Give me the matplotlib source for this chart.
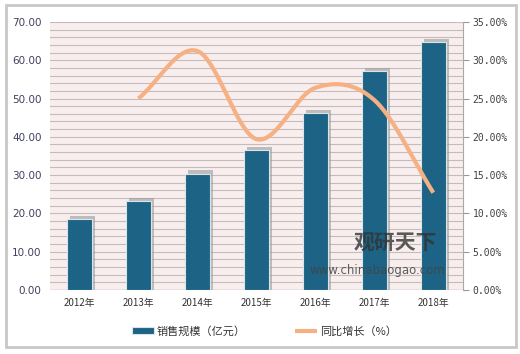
import matplotlib
matplotlib.use("Agg")
import matplotlib.pyplot as plt
import numpy as np
from matplotlib.patches import Rectangle

plt.rcParams['font.family'] = ['Noto Sans CJK SC', 'DejaVu Sans']

years = ["2012年", "2013年", "2014年", "2015年", "2016年", "2017年", "2018年"]
sales = [18.5, 23.1, 30.4, 36.5, 46.1, 57.2, 64.7]
growth_years = ["2013年", "2014年", "2015年", "2016年", "2017年", "2018年"]
growth = [25.0, 31.2, 19.7, 26.4, 24.8, 12.7]
left_ticks = [0, 10, 20, 30, 40, 50, 60, 70]
right_ticks = [0, 5, 10, 15, 20, 25, 30, 35]

bar_color = "#1c6385"
line_color = "#f5b183"

fig = plt.figure(figsize=(5.2, 3.54), dpi=100)
# outer frame
fig.patches.append(Rectangle((0.012, 0.02), 0.98, 0.965, transform=fig.transFigure,
                             facecolor="white", edgecolor="#c8c8c8", linewidth=2.0, zorder=-10))

ax = fig.add_axes([0.096, 0.181, 0.794, 0.757])
ax.set_facecolor("#f8eeee")
x = np.arange(len(years))
ax.set_xlim(-0.5, len(years) - 0.5)
ax.set_ylim(0, 70)
for yv in np.arange(2, 71, 2):
    ax.axhline(yv, color="#c4bcbc", linewidth=0.8, zorder=1)
ax.axhline(0, color="#aaaaaa", linewidth=1.0, zorder=1)

w = 0.42
# shadows
ax.bar(x + 0.05, np.array(sales) + 0.9, width=w, color="#9a9a9a", alpha=0.6, zorder=2)
ax.bar(x, sales, width=w, color=bar_color, edgecolor="#d8e4ea", linewidth=0.8, zorder=3,
       label="销售规模（亿元）")

ax.set_xticks(x)
ax.set_xticklabels(years, fontsize=7, color="#333333")
ax.set_yticks(left_ticks)
ax.set_yticklabels([f"{v:.2f}" for v in left_ticks], fontsize=7.5, color="#404060",
                   family=["DejaVu Sans"])
ax.tick_params(axis='both', length=0, pad=6)
for s in ax.spines.values():
    s.set_visible(False)

ax2 = ax.twinx()
ax2.set_ylim(0, 35)
ax2.set_yticks(right_ticks)
ax2.set_yticklabels([f"{v:.2f}%" for v in right_ticks], fontsize=7, color="#404040",
                    family=["DejaVu Sans Mono"])
ax2.tick_params(axis='y', length=4, color="#999999", pad=3)
for k, s in ax2.spines.items():
    s.set_visible(k == "right")
ax2.spines["right"].set_color("#aaaaaa")

# smooth curve (Catmull-Rom)
gx = np.array([years.index(g) for g in growth_years], dtype=float)
gy = np.array(growth, dtype=float)
P = np.column_stack([gx, gy])
Pext = np.vstack([2 * P[0] - P[1], P, 2 * P[-1] - P[-2]])
pts = []
for i in range(1, len(Pext) - 2):
    p0, p1, p2, p3 = Pext[i - 1], Pext[i], Pext[i + 1], Pext[i + 2]
    t = np.linspace(0, 1, 40)[:, None]
    seg = 0.5 * ((2 * p1) + (-p0 + p2) * t + (2 * p0 - 5 * p1 + 4 * p2 - p3) * t ** 2
                 + (-p0 + 3 * p1 - 3 * p2 + p3) * t ** 3)
    pts.append(seg)
pts = np.vstack(pts)
ax2.plot(pts[:, 0], pts[:, 1], color=line_color, linewidth=3, zorder=5,
         solid_capstyle="butt", label="同比增长（%）")

# watermark
fig.text(0.68, 0.295, "观研天下", fontsize=15, fontweight="bold", color="#333333", alpha=0.8,
         zorder=10)
fig.text(0.595, 0.225, "www.chinabaogao.com", fontsize=8.5, color="#444444", alpha=0.85,
         family=["DejaVu Sans"], zorder=10)

h1, l1 = ax.get_legend_handles_labels()
h2, l2 = ax2.get_legend_handles_labels()
fig.legend(h1 + h2, l1 + l2, loc="center", bbox_to_anchor=(0.508, 0.065), ncol=2,
           frameon=False, fontsize=8, handlelength=2.0, handleheight=0.5,
           handletextpad=0.2, columnspacing=4.5, labelcolor="#333333")

fig.savefig("out.png", dpi=100)
